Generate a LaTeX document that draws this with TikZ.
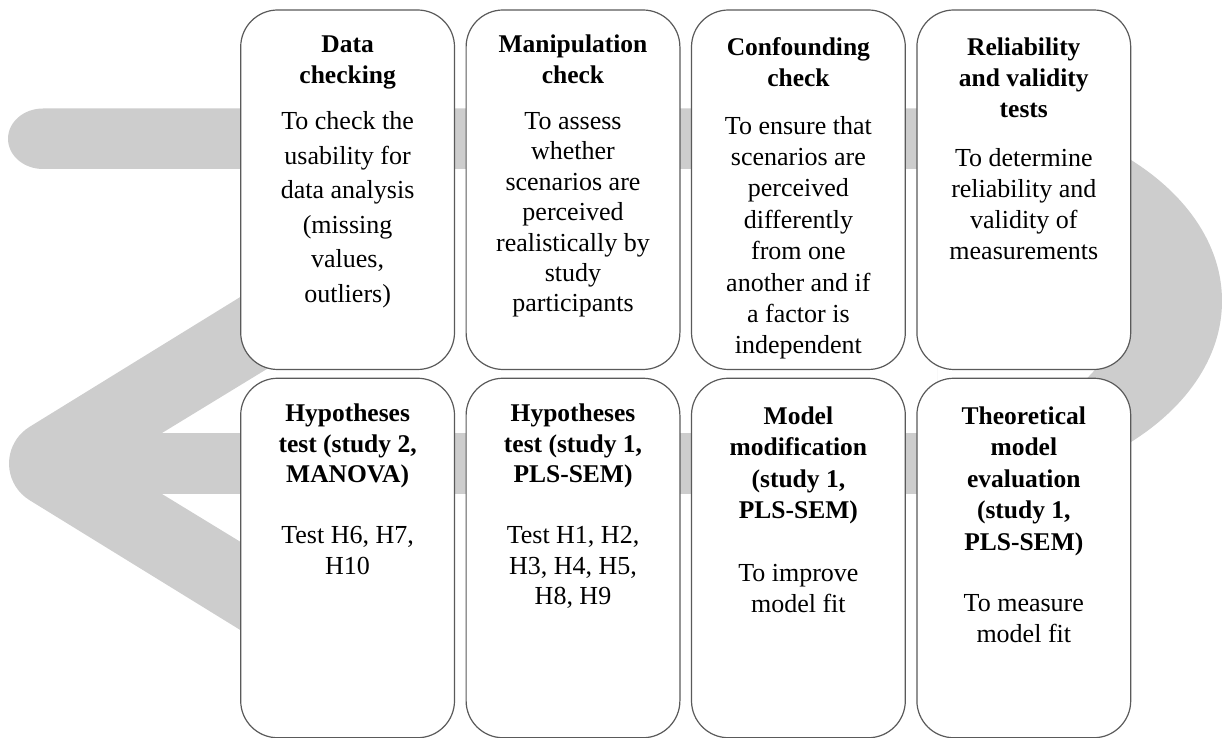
\documentclass[tikz,border=0pt]{standalone}
\usepackage{fontspec}
\setmainfont{Liberation Serif}
\definecolor{band}{RGB}{205,205,205}
\definecolor{edge}{RGB}{90,90,90}
\begin{document}
\begin{tikzpicture}[x=1pt,y=1pt,
  box/.style={draw=edge, line width=1.2pt, fill=white, rounded corners=37pt,
    minimum width=213.8pt, minimum height=359.5pt, inner sep=0pt},
  ttl/.style={font=\fontsize{25.5}{#1}\selectfont\bfseries, align=center, inner sep=0pt, anchor=north},
  bdy/.style={font=\fontsize{26}{#1}\selectfont, align=center, inner sep=0pt, anchor=north}]
\useasboundingbox (0,0) rectangle (1222,738);
% grey background arrow
\fill[band] (940,629.5) -- (43,629.5) arc[start angle=90, end angle=270, x radius=35, y radius=30.25] -- (940,569) -- cycle;
\fill[band, even odd rule] (937,629.5) arc[start angle=90, end angle=-90, x radius=285, y radius=192.5] -- cycle
  (937,569) arc[start angle=90, end angle=-90, x radius=185, y radius=132] -- cycle;
\fill[band] (160,305) rectangle (940,244);
\fill[band] (300,477.8) -- (29.5,311.1) arc[start angle=121.6, end angle=238.4, radius=43] -- (300,71.2)
  -- (300,159.8) -- (162,244) -- (162,305) -- (300,389.2) -- cycle;
% boxes
\node[box] (b1) at (347.6,548.25) {};
\node[box] (b2) at (573.0,548.25) {};
\node[box] (b3) at (798.4,548.25) {};
\node[box] (b4) at (1023.8,548.25) {};
\node[box] (b5) at (347.6,180) {};
\node[box] (b6) at (573.0,180) {};
\node[box] (b7) at (798.4,180) {};
\node[box] (b8) at (1023.8,180) {};
% titles
\node[ttl=31] (t1) at (347.6,707.0) {\strut Data\\checking};
\node[ttl=31] (t2) at (573.0,707.0) {\strut Manipulation\\check};
\node[ttl=31] (t3) at (798.4,704.4) {\strut Confounding\\check};
\node[ttl=31] (t4) at (1023.8,704.4) {\strut Reliability\\and validity\\tests};
\node[ttl=30.5] (t5) at (347.6,338.0) {\strut Hypotheses\\test (study 2,\\MANOVA)};
\node[ttl=30.5] (t6) at (573.0,338.0) {\strut Hypotheses\\test (study 1,\\PLS-SEM)};
\node[ttl=31.5] (t7) at (798.4,336.1) {\strut Model\\modification\\(study 1,\\PLS-SEM)};
\node[ttl=31.5] (t8) at (1023.8,336.1) {\strut Theoretical\\model\\evaluation\\(study 1,\\PLS-SEM)};
% bodies
\node[bdy=34.6] (d1) at (347.6,632.9) {\strut To check the\\usability for\\data analysis\\(missing\\values,\\outliers)};
\node[bdy=30.4] (d2) at (573.0,630.0) {\strut To assess\\whether\\scenarios are\\perceived\\realistically by\\study\\participants};
\node[bdy=31.4] (d3) at (798.4,626.0) {\strut To ensure that\\scenarios are\\perceived\\differently\\from one\\another and if\\a factor is\\independent};
\node[bdy=31] (d4) at (1023.8,593.7) {\strut To determine\\reliability and\\validity of\\measurements};
\node[bdy=30.7] (d5) at (347.6,216.2) {\strut Test H6, H7,\\H10};
\node[bdy=30.7] (d6) at (573.0,216.2) {\strut Test H1, H2,\\H3, H4, H5,\\H8, H9};
\node[bdy=31.1] (d7) at (798.4,178.9) {\strut To improve\\model fit};
\node[bdy=31] (d8) at (1023.8,148.7) {\strut To measure\\model fit};
\end{tikzpicture}
\end{document}
